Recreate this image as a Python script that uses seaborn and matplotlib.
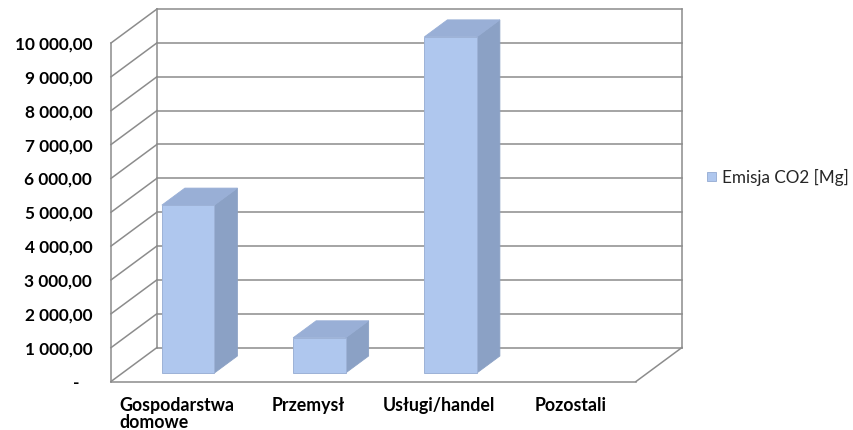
import matplotlib
matplotlib.use("Agg")
import matplotlib.pyplot as plt
import matplotlib.transforms as mtransforms
from matplotlib.patches import Polygon
from matplotlib.ticker import FuncFormatter, FixedLocator
import pandas as pd
import seaborn as sns

# --- data ---
kategorie = ["Gospodarstwa\ndomowe", "Przemysł", "Usługi/handel", "Pozostali"]
emisja = [4960, 1040, 9930, 0]
seria = "Emisja CO2 [Mg]"
y_ticks = [0, 1000, 2000, 3000, 4000, 5000, 6000, 7000, 8000, 9000, 10000]

df = pd.DataFrame({"kategoria": kategorie, "emisja": emisja, "seria": [seria] * len(kategorie)})

# --- style ---
sns.set_theme(style="white")
plt.rcParams["font.family"] = ["Lato", "DejaVu Sans"]

FRONT = "#AFC7EE"
SIDE = "#8BA1C5"
TOP = "#99AFD6"
EDGE = "#9DB2D7"
WALL = "#8C8C8C"

DPI = 100
W, H = 854, 430
fig = plt.figure(figsize=(W / DPI, H / DPI), dpi=DPI)
fig.patch.set_facecolor("white")

# front plane of the 3-D box, in pixels
left_px, right_px, bottom_px, top_px = 111, 636, 381.5, 43
ax = fig.add_axes([left_px / W, (H - bottom_px) / H,
                   (right_px - left_px) / W, (bottom_px - top_px) / H])
ax.set_xlim(-0.5, len(kategorie) - 0.5)
ax.set_ylim(y_ticks[0], y_ticks[-1])

# depth of the box (pixels) converted to data units
DEPTH_PX = (46.0, 34.0)
o = ax.transData.transform((0, 0))
dx, dy = ax.transData.inverted().transform((o[0] + DEPTH_PX[0], o[1] + DEPTH_PX[1]))
x0, x1 = ax.get_xlim()
ymax = y_ticks[-1]

line_kw = dict(color=WALL, lw=1.1, clip_on=False, zorder=1, solid_capstyle="projecting")

# back wall gridlines and frame
for v in y_ticks:
    ax.plot([x0 + dx, x1 + dx], [v + dy, v + dy], **line_kw)
    # left wall diagonals
    ax.plot([x0, x0 + dx], [v, v + dy], **line_kw)
ax.plot([x0 + dx, x0 + dx], [dy, ymax + dy], **line_kw)
ax.plot([x1 + dx, x1 + dx], [dy, ymax + dy], **line_kw)
ax.plot([x0, x0], [0, ymax], **line_kw)
# floor
ax.plot([x0, x1], [0, 0], **line_kw)
ax.plot([x1, x1 + dx], [0, dy], **line_kw)

# bars: front faces
sns.barplot(data=df, x="kategoria", y="emisja", hue="seria", palette=[FRONT],
            width=0.4, edgecolor=EDGE, linewidth=0.7, saturation=1,
            legend=True, ax=ax, zorder=3)

shift = ax.transData + mtransforms.ScaledTranslation(
    DEPTH_PX[0] / 4 / DPI, DEPTH_PX[1] / 4 / DPI, fig.dpi_scale_trans)
for bar in ax.containers[0]:
    bar.set_transform(shift)
    bar.set_clip_on(False)
    bx, bw, bh = bar.get_x(), bar.get_width(), bar.get_height()
    if bh <= 0:
        bar.set_visible(False)
        continue
    hx, hy = dx / 2, dy / 2
    side = Polygon([(bx + bw, 0), (bx + bw, bh), (bx + bw + hx, bh + hy), (bx + bw + hx, hy)],
                   closed=True, facecolor=SIDE, edgecolor=SIDE, lw=0.6,
                   transform=shift, clip_on=False, zorder=2.9)
    top = Polygon([(bx, bh), (bx + bw, bh), (bx + bw + hx, bh + hy), (bx + hx, bh + hy)],
                  closed=True, facecolor=TOP, edgecolor=TOP, lw=0.6,
                  transform=shift, clip_on=False, zorder=2.9)
    ax.add_patch(side)
    ax.add_patch(top)

# axes text
for s in ax.spines.values():
    s.set_visible(False)
ax.set_xlabel("")
ax.set_ylabel("")
ax.yaxis.set_major_locator(FixedLocator(y_ticks))


def fmt(v, _pos):
    if v == 0:
        return "-   "
    return f"{v:,.2f}".replace(",", " ").replace(".", ",")


ax.yaxis.set_major_formatter(FuncFormatter(fmt))
ax.tick_params(axis="y", length=0, pad=13.5, labelsize=12.4, labelcolor="black")
ax.tick_params(axis="x", length=0, pad=11.5, labelsize=12.8, labelcolor="black")
for lbl in ax.get_yticklabels():
    lbl.set_fontweight("bold")
for lbl in ax.get_xticklabels():
    lbl.set_fontweight("bold")
    lbl.set_multialignment("left")
    lbl.set_linespacing(1.0)

ax.legend(loc="center left", bbox_to_anchor=(707 / W, 1 - 177 / H),
          bbox_transform=fig.transFigure, frameon=False, fontsize=12.3,
          handlelength=0.5, handleheight=0.5, handletextpad=0.4,
          borderpad=0, borderaxespad=0)

fig.savefig("out.png", dpi=DPI, facecolor="white")
